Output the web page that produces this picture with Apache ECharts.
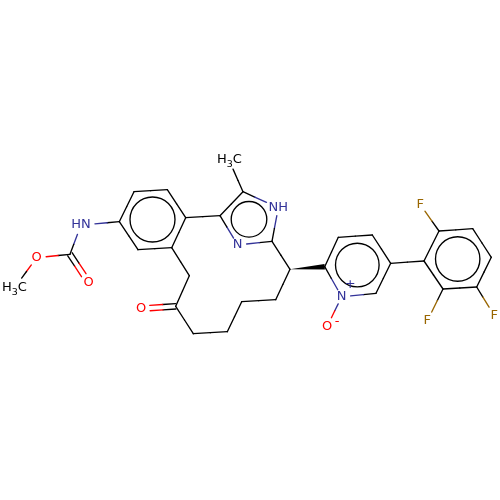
<!DOCTYPE html>
<html>
<head>
<meta charset="utf-8">
<style>html,body{margin:0;padding:0;background:#fff}#c{width:500px;height:500px}</style>
<script src="https://cdn.jsdelivr.net/npm/echarts@6/dist/echarts.min.js"></script>
</head>
<body>
<div id="c"></div>
<script>
// Atom vertices: [id, x, y, element]
const atoms = [
  ['a1',119.3,221.7,'C'],['a2',134,191.7,'C'],['a3',167.3,189.7,'C'],['a4',185.7,217.7,'C'],['a5',171.7,247.7,'C'],['a6',138,249.7,'C'],
  ['nh1',81,225,'N'],['cc',70,254.3,'C'],['o1',88.7,282.7,'O'],['o2',36.7,257.7,'O'],['me1',14.5,287.7,'C'],
  ['ch2',189.3,275.7,'C'],['ck',175.7,306.3,'C'],['ok',141,308.7,'O'],['c3',193.3,333.7,'C'],['c4',227.3,331.7,'C'],['c5',241.7,301.7,'C'],['c6',275.7,299.7,'C'],['cs',290,269.3,'C'],
  ['i1',220,215.7,'C'],['i2',243,191.7,'C'],['nh2',278.3,207.7,'N'],['i3',272,241.3,'C'],['n3',237.7,245,'N'],['me2',229,160,'C'],
  ['p2',324.7,266.7,'C'],['p3',338.3,237.3,'C'],['p4',372.3,235,'C'],['p5',390.7,263.3,'C'],['p6',376,293.3,'C'],['np',341.7,296.7,'N'],['op',327,326.7,'O'],
  ['f1',424,261,'C'],['f2',439,231,'C'],['f3',472.7,228.7,'C'],['f4',491.3,257.3,'C'],['f5',476.7,287,'C'],['f6',443,289,'C'],
  ['ft',420.3,204.7,'F'],['fb',427.3,321,'F'],['fr',494.3,315.7,'F']
];
// Bonds: [from, to, gap at from, gap at to, order]
const bonds = [
  ['a1','a2',0,0,1],['a2','a3',0,0,1],['a3','a4',0,0,1],['a4','a5',0,0,1],['a5','a6',0,0,1],['a6','a1',0,0,1],
  ['a1','nh1',0,14,1],['nh1','cc',10,0,1],['cc','o1',0,9,2],['cc','o2',0,9.5,1],['o2','me1',9,12,1],
  ['a5','ch2',0,0,1],['ch2','ck',0,0,1],['ck','ok',0,9,2],['ck','c3',0,0,1],['c3','c4',0,0,1],['c4','c5',0,0,1],['c5','c6',0,0,1],['c6','cs',0,0,1],['cs','i3',0,0,1],
  ['a4','i1',0,0,1],['i1','i2',0,0,1],['i2','nh2',0,13,1],['nh2','i3',8,0,1],['i3','n3',0,9,1],['n3','i1',8,0,1],['i2','me2',0,10,1],
  ['p2','p3',0,0,1],['p3','p4',0,0,1],['p4','p5',0,0,1],['p5','p6',0,0,1],['p6','np',0,9,1],['np','p2',8,0,1],['np','op',8,10,1],
  ['p5','f1',0,0,1],['f1','f2',0,0,1],['f2','f3',0,0,1],['f3','f4',0,0,1],['f4','f5',0,0,1],['f5','f6',0,0,1],['f6','f1',0,0,1],
  ['f2','ft',0,8,1],['f6','fb',0,10,1],['f5','fr',0,10,1]
];
// Aromatic rings: [cx, cy, r]
const rings = [[152.5,219.5,22.5],[249,219.3,17.8],[357.3,265,21.8],[457.7,259,22.2]];
// Stereo wedge: narrow end, wide end
const wedges = [['cs','p2']];
// Text labels: [text, x, y, element]
const labels = [
  ['HN',81,225,'N'],['O',88.7,282.7,'O'],['O',36.7,257.7,'O'],['H{s|3}C',14.5,288,'C'],['O',141,308.7,'O'],
  ['H{s|3}C',229.5,159.7,'C'],['NH',278.3,207.7,'N'],['N',237.7,245,'N'],['N',341.7,296.7,'N'],['O',327,326.7,'O'],
  ['+',350.3,285,'N'],['-',337,321.3,'O'],['F',420.3,204.7,'F'],['F',427.3,321,'F'],['F',494.3,315.7,'F']
];
const elements = ['C','N','O','F'];
const colors = ['#000000','#333399','#ff0000','#996600'];

const pos = {}, el = {};
atoms.forEach(a => { pos[a[0]] = [a[1],a[2]]; el[a[0]] = elements.indexOf(a[3]); });

// Each bond split at the middle of its visible length so each half takes its atom's colour
const segments = [];
bonds.forEach(b => {
  const p = pos[b[0]], q = pos[b[1]];
  const dx = q[0]-p[0], dy = q[1]-p[1], len = Math.hypot(dx,dy), ux = dx/len, uy = dy/len;
  const s = [p[0]+ux*b[2], p[1]+uy*b[2]], e = [q[0]-ux*b[3], q[1]-uy*b[3]];
  const m = [(s[0]+e[0])/2,(s[1]+e[1])/2];
  const offs = b[4] === 2 ? [-2.7,2.7] : [0];
  offs.forEach(o => {
    const nx = -uy*o, ny = ux*o;
    segments.push([s[0]+nx,s[1]+ny,m[0]+nx,m[1]+ny,el[b[0]]]);
    segments.push([m[0]+nx,m[1]+ny,e[0]+nx,e[1]+ny,el[b[1]]]);
  });
});
const wedgeData = wedges.map(w => [...pos[w[0]],...pos[w[1]]]);
const lineW = 1.35;

const chart = echarts.init(document.getElementById('c'), null, {renderer:'canvas'});
chart.setOption({
  animation:false,
  backgroundColor:'#ffffff',
  grid:{left:0,right:0,top:0,bottom:0},
  xAxis:{type:'value',min:0,max:500,show:false},
  yAxis:{type:'value',min:0,max:500,inverse:true,show:false},
  series:[
    {type:'custom',silent:true,clip:false,data:segments,renderItem:(p,api)=>{
      const a=api.coord([api.value(0),api.value(1)]),b=api.coord([api.value(2),api.value(3)]);
      return {type:'line',shape:{x1:a[0],y1:a[1],x2:b[0],y2:b[1]},
        style:{stroke:colors[api.value(4)],lineWidth:lineW,lineCap:'round',fill:null}};
    }},
    {type:'custom',silent:true,clip:false,data:rings,renderItem:(p,api)=>{
      const c=api.coord([api.value(0),api.value(1)]),r=api.size([api.value(2),api.value(2)])[0];
      return {type:'circle',shape:{cx:c[0],cy:c[1],r:r},style:{stroke:'#000',fill:null,lineWidth:lineW}};
    }},
    {type:'custom',silent:true,clip:false,data:wedgeData,renderItem:(p,api)=>{
      const a=api.coord([api.value(0),api.value(1)]),b=api.coord([api.value(2),api.value(3)]);
      const dx=b[0]-a[0],dy=b[1]-a[1],l=Math.hypot(dx,dy),nx=-dy/l*2.7,ny=dx/l*2.7;
      return {type:'polygon',shape:{points:[a,[b[0]+nx,b[1]+ny],[b[0]-nx,b[1]-ny]]},style:{fill:'#000'}};
    }},
    {type:'custom',silent:true,clip:false,data:labels.map(l=>[l[1],l[2]]),renderItem:(p,api)=>{
      const l=labels[p.dataIndex],c=api.coord([l[1],l[2]]);
      const fill=colors[elements.indexOf(l[3])];
      return {type:'text',x:c[0],y:c[1],style:{text:l[0],fill:fill,fontFamily:'DejaVu Sans',fontSize:13,lineHeight:19,
        align:'center',verticalAlign:'middle',
        rich:{s:{fill:fill,fontFamily:'DejaVu Sans',fontSize:9.5,lineHeight:19,verticalAlign:'bottom'}}}};
    }}
  ]
});
</script>
</body>
</html>
